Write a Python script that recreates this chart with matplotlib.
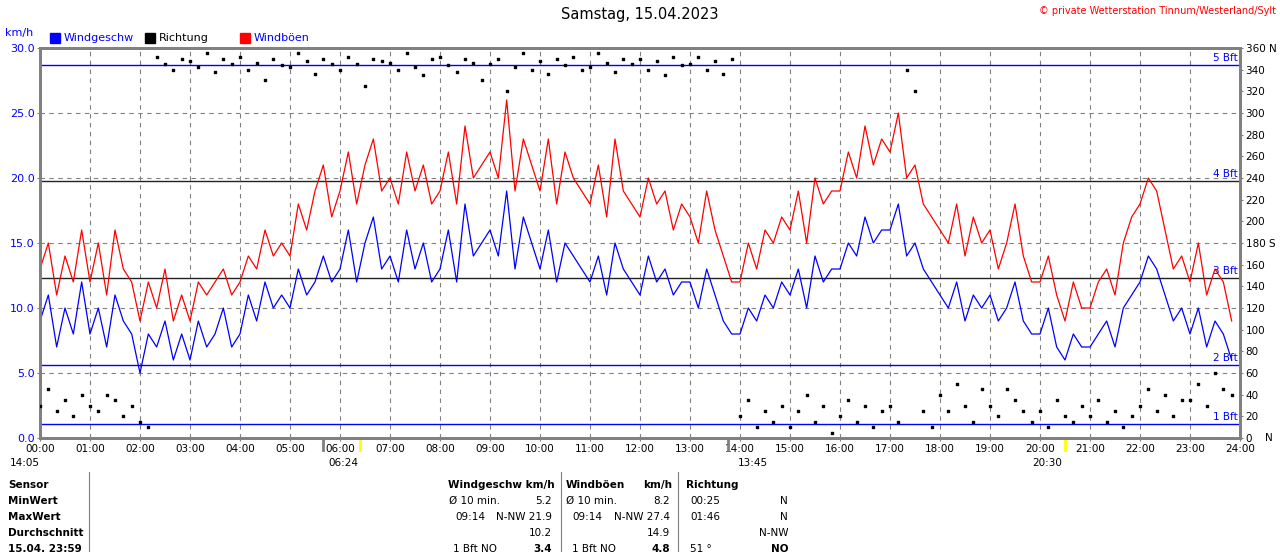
import matplotlib
matplotlib.use("Agg")
import matplotlib.pyplot as plt
import numpy as np

hours = [f"{h:02d}:00" for h in range(25)]
wind = [9,11,7,10,8,12, 8,10,7,11,9,8, 5,8,7,9,6,8, 6,9,7,8,10,7,
        8,11,9,12,10,11, 10,13,11,12,14,12, 13,16,12,15,17,13, 14,12,16,13,15,12,
        13,16,12,18,14,15, 16,14,19,13,17,15, 13,16,12,15,14,13, 12,14,11,15,13,12,
        11,14,12,13,11,12, 12,10,13,11,9,8, 8,10,9,11,10,12, 11,13,10,14,12,13,
        13,15,14,17,15,16, 16,18,14,15,13,12, 11,10,12,9,11,10, 11,9,10,12,9,8,
        8,10,7,6,8,7, 7,8,9,7,10,11, 12,14,13,11,9,10, 8,10,7,9,8,6]
gust = [13,15,11,14,12,16, 12,15,11,16,13,12, 9,12,10,13,9,11, 9,12,11,12,13,11,
        12,14,13,16,14,15, 14,18,16,19,21,17, 19,22,18,21,23,19, 20,18,22,19,21,18,
        19,22,18,24,20,21, 22,20,26,19,23,21, 19,23,18,22,20,19, 18,21,17,23,19,18,
        17,20,18,19,16,18, 17,15,19,16,14,12, 12,15,13,16,15,17, 16,19,15,20,18,19,
        19,22,20,24,21,23, 22,25,20,21,18,17, 16,15,18,14,17,15, 16,13,15,18,14,12,
        12,14,11,9,12,10, 10,12,13,11,15,17, 18,20,19,16,13,14, 12,15,11,13,12,9]
direction = [30,45,25,35,20,40, 30,25,40,35,20,30, 15,10,352,345,340,350,
             348,342,355,338,350,345, 352,340,346,330,350,344, 342,355,348,336,350,345,
             340,352,345,325,350,348, 346,340,355,342,335,350, 352,344,338,350,346,330,
             345,350,320,342,355,340, 348,336,350,344,352,340, 342,355,346,338,350,345,
             350,340,348,335,352,344, 345,352,340,348,336,350,
             20,35,10,25,15,30, 10,25,40,15,30,5, 20,35,15,30,10,25, 30,15,340,320,25,10,
             40,25,50,30,15,45, 30,20,45,35,25,15, 25,10,35,20,15,30, 20,35,15,25,10,20,
             30,45,25,40,20,35, 35,50,30,60,45,40]
bft_levels = [1.1, 5.6, 12.3, 19.8, 28.7]
bft_labels = ["1 Bft", "2 Bft", "3 Bft", "4 Bft", "5 Bft"]
bft_colors = ["blue", "blue", "#222222", "#222222", "blue"]

t = np.arange(len(wind)) / 6.0

fig = plt.figure(figsize=(12.8, 5.52), dpi=100)
W, H = 1280, 552
ax = fig.add_axes([40/W, (H-438)/H, 1200/W, 390/H])
ax.set_xlim(0, 24); ax.set_ylim(0, 30)
for x in range(1, 24):
    ax.axvline(x, color="grey", ls=(0, (4, 4)), lw=0.8, zorder=0)
for y in [5, 10, 15, 20, 25]:
    ax.axhline(y, color="grey", ls=(0, (4, 4)), lw=0.8, zorder=0)
for lv, lb, c in zip(bft_levels, bft_labels, bft_colors):
    ax.axhline(lv, color=c, lw=1, zorder=1)
    ax.text(23.95, lv + 0.15, lb, color="blue", fontsize=7.5, ha="right", va="bottom")
ax.plot(t, gust, color="red", lw=0.9, zorder=2)
ax.plot(t, wind, color="blue", lw=0.9, zorder=3)
ax2 = ax.twinx()
ax2.set_ylim(0, 360)
ax2.scatter(t, direction, s=3, marker="s", color="black", zorder=4)
ax.set_xticks(range(25)); ax.set_xticklabels(hours, fontsize=7.5)
ax.set_yticks(np.arange(0, 31, 5))
ax.set_yticklabels([f"{v:.1f}" for v in range(0, 31, 5)], color="blue", fontsize=8)
rt = list(range(0, 361, 20))
rl = [("360 N" if v == 360 else "180 S" if v == 180 else str(v)) for v in rt]
ax2.set_yticks(rt); ax2.set_yticklabels(rl, fontsize=7.5)
for a in (ax, ax2):
    for s in a.spines.values():
        s.set_color("grey"); s.set_linewidth(2)
    a.tick_params(length=2, color="grey", pad=2)
fig.text(1265/W, 1 - 438/H, "N", fontsize=7.5, va="center")
fig.text(5/W, 1 - 33/H, "km/h", color="blue", fontsize=8, va="center")
fig.text(640/W, 1 - 15/H, "Samstag, 15.04.2023", fontsize=10.5, ha="center", va="center")
fig.text(1276/W, 1 - 11/H, "© private Wetterstation Tinnum/Westerland/Sylt", color="red",
         fontsize=7, ha="right", va="center")
for x0, lbl, c in [(50, "Windgeschw", "blue"), (145, "Richtung", "black"), (240, "Windböen", "red")]:
    fig.patches.append(plt.Rectangle((x0/W, 1 - 43/H), 10/W, 10/H, color=c, transform=fig.transFigure))
    fig.text((x0+14)/W, 1 - 38/H, lbl, color="black" if c == "black" else "blue", fontsize=8, va="center")
# astro markers
for xm, c in [(5 + 40/60, "grey"), (13.75, "grey")]:
    ax.plot([xm, xm], [0, -0.9], color=c, lw=2, clip_on=False)
for xm in [6.4, 20.5]:
    ax.plot([xm, xm], [0, -0.9], color="yellow", lw=2, clip_on=False)
fig.text(10/W, 1 - 463/H, "14:05", fontsize=7.5, va="center")
fig.text(328/W, 1 - 463/H, "06:24", fontsize=7.5, va="center")
fig.text(738/W, 1 - 463/H, "13:45", fontsize=7.5, va="center")
fig.text(1032/W, 1 - 463/H, "20:30", fontsize=7.5, va="center")
for xl in [89, 561, 678]:
    fig.add_artist(plt.Line2D([xl/W, xl/W], [0, 1 - 472/H], color="grey", lw=0.8))
rows_y = [485, 501, 517, 533, 549]
left = ["Sensor", "MinWert", "MaxWert", "Durchschnitt", "15.04. 23:59"]
for y, s in zip(rows_y, left):
    fig.text(8/W, 1 - y/H, s, fontsize=7.5, weight="bold", va="center")
cells = [
    (448, 485, "Windgeschw km/h", "left", "bold"), (566, 485, "Windböen", "left", "bold"),
    (672, 485, "km/h", "right", "bold"), (686, 485, "Richtung", "left", "bold"),
    (449, 501, "Ø 10 min.", "left", "normal"), (552, 501, "5.2", "right", "normal"),
    (566, 501, "Ø 10 min.", "left", "normal"), (670, 501, "8.2", "right", "normal"),
    (690, 501, "00:25", "left", "normal"), (788, 501, "N", "right", "normal"),
    (455, 517, "09:14", "left", "normal"), (552, 517, "N-NW 21.9", "right", "normal"),
    (572, 517, "09:14", "left", "normal"), (670, 517, "N-NW 27.4", "right", "normal"),
    (690, 517, "01:46", "left", "normal"), (788, 517, "N", "right", "normal"),
    (552, 533, "10.2", "right", "normal"), (670, 533, "14.9", "right", "normal"),
    (788, 533, "N-NW", "right", "normal"),
    (453, 549, "1 Bft NO", "left", "normal"), (552, 549, "3.4", "right", "bold"),
    (572, 549, "1 Bft NO", "left", "normal"), (670, 549, "4.8", "right", "bold"),
    (690, 549, "51 °", "left", "normal"), (788, 549, "NO", "right", "bold"),
]
for x, y, s, ha, w in cells:
    fig.text(x/W, 1 - y/H, s, fontsize=7.5, ha=ha, weight=w, va="center")
fig.savefig("out.png", dpi=100)
